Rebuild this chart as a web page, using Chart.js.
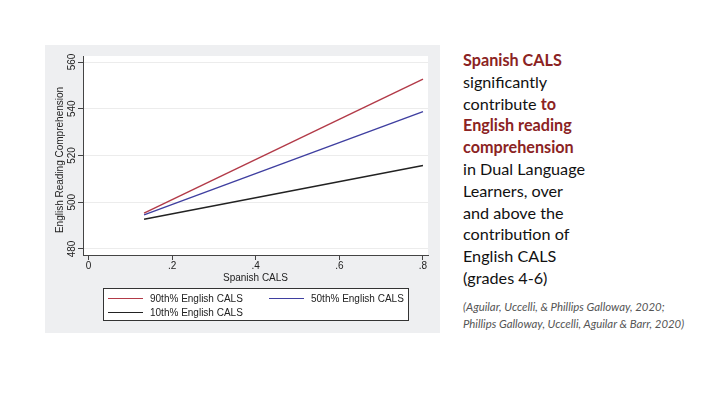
<!DOCTYPE html>
<html>
<head>
<meta charset="utf-8">
<script src="https://cdn.jsdelivr.net/npm/chart.js@4.4.1/dist/chart.umd.min.js"></script>
<style>
  html, body { margin: 0; padding: 0; background: #ffffff; width: 720px; height: 405px; overflow: hidden; }
  #panel { position: absolute; left: 45px; top: 45px; width: 395px; height: 288px; background: #eeeff1; }
  #chart { position: absolute; left: 0; top: 0; }
  #side { position: absolute; left: 463px; top: 49px; font-family: Lato, "Open Sans", sans-serif; font-size: 16.2px; line-height: 21.8px; color: #111; }
  #side b { color: #8b2323; font-weight: 700; }
  #cite { position: absolute; left: 463px; top: 299px; font-family: Lato, "Open Sans", sans-serif; font-style: italic; font-size: 11.4px; line-height: 16.7px; color: #555; }
</style>
</head>
<body>
<div id="panel"><canvas id="chart" width="395" height="288"></canvas></div>
<div id="side">
  <b>Spanish CALS</b><br>
  significantly<br>
  contribute <b>to</b><br>
  <b>English reading</b><br>
  <b>comprehension</b><br>
  in Dual Language<br>
  Learners, over<br>
  and above the<br>
  contribution of<br>
  English CALS<br>
  (grades 4-6)
</div>
<div id="cite">
  (Aguilar, Uccelli, &amp; Phillips Galloway, 2020;<br>
  Phillips Galloway, Uccelli, Aguilar &amp; Barr, 2020)
</div>
<script>
// ---- data ----
const spanishCALS = [0.133, 0.8];
const p90English = [495.3, 552.7];
const p50English = [494.6, 538.8];
const p10English = [492.7, 515.7];
const seriesNames = ["90th% English CALS", "50th% English CALS", "10th% English CALS"];
const xTickValues = [0, 0.2, 0.4, 0.6, 0.8];
const xTickLabels = ["0", ".2", ".4", ".6", ".8"];
const yTickValues = [480, 500, 520, 540, 560];
const yTickLabels = ["480", "500", "520", "540", "560"];
const xTitle = "Spanish CALS";
const yTitle = "English Reading Comprehension";

const FONT = '"Liberation Sans", Arial, sans-serif';
const toPts = ys => spanishCALS.map((x, i) => ({ x: x, y: ys[i] }));

const seriesColors = ["#b23a48", "#3f3fa0", "#222222"];

const plotBg = {
  id: 'plotBg',
  beforeDraw(chart) {
    const { ctx, chartArea: a } = chart;
    ctx.save();
    ctx.fillStyle = '#ffffff';
    ctx.fillRect(a.left, a.top, a.right - a.left, a.bottom - a.top);
    ctx.restore();
  }
};

const yLabels = {
  id: 'yLabels',
  afterDraw(chart) {
    const { ctx } = chart;
    const y = chart.scales.y;
    ctx.save();
    ctx.fillStyle = '#222';
    ctx.font = '10px ' + FONT;
    ctx.textAlign = 'center';
    ctx.textBaseline = 'middle';
    yTickValues.forEach((v, i) => {
      const py = y.getPixelForValue(v);
      ctx.save();
      ctx.translate(27, py);
      ctx.rotate(-Math.PI / 2);
      ctx.fillText(yTickLabels[i], 0, 0);
      ctx.restore();
    });
    ctx.save();
    ctx.translate(15, (chart.chartArea.top + chart.chartArea.bottom) / 2 + 4.5);
    ctx.rotate(-Math.PI / 2);
    ctx.fillText(yTitle, 0, 0);
    ctx.restore();
    ctx.restore();
  }
};

const boxLegend = {
  id: 'boxLegend',
  afterDraw(chart) {
    const { ctx } = chart;
    const bx = 58, by = 243, bw = 305, bh = 32;
    ctx.save();
    ctx.fillStyle = '#ffffff';
    ctx.fillRect(bx, by, bw, bh);
    ctx.strokeStyle = '#333';
    ctx.lineWidth = 1;
    ctx.strokeRect(bx + 0.5, by + 0.5, bw, bh);
    const slots = [[63, 253], [224, 253], [63, 267]];
    ctx.font = '10px ' + FONT;
    ctx.textBaseline = 'middle';
    ctx.textAlign = 'left';
    chart.data.datasets.forEach((ds, i) => {
      const [sx, sy] = slots[i];
      ctx.strokeStyle = ds.borderColor;
      ctx.lineWidth = 1.2;
      ctx.beginPath();
      ctx.moveTo(sx, sy + 0.5);
      ctx.lineTo(sx + 35, sy + 0.5);
      ctx.stroke();
      ctx.fillStyle = '#222';
      ctx.fillText(ds.label, sx + 42, sy + 1);
    });
    ctx.restore();
  }
};

new Chart(document.getElementById('chart'), {
  type: 'line',
  data: {
    datasets: [
      { label: seriesNames[0], data: toPts(p90English), borderColor: seriesColors[0] },
      { label: seriesNames[1], data: toPts(p50English), borderColor: seriesColors[1] },
      { label: seriesNames[2], data: toPts(p10English), borderColor: seriesColors[2] }
    ].map(d => Object.assign(d, { borderWidth: 1.4, pointRadius: 0, fill: false, tension: 0 }))
  },
  options: {
    responsive: false,
    devicePixelRatio: 1,
    animation: false,
    layout: { padding: { top: 11, right: 12, bottom: 49, left: 0 } },
    plugins: { legend: { display: false }, tooltip: { enabled: false } },
    scales: {
      x: {
        type: 'linear',
        min: -0.013, max: 0.812,
        afterBuildTicks: s => { s.ticks = xTickValues.map(v => ({ value: v })); },
        afterFit: s => { s.height = 29; },
        ticks: {
          padding: 0, color: '#222', font: { family: FONT, size: 10 },
          maxRotation: 0, autoSkip: false,
          callback: (v) => { const i = xTickValues.indexOf(v); return i >= 0 ? xTickLabels[i] : ''; }
        },
        grid: { drawOnChartArea: false, tickLength: 5, tickColor: '#444', color: '#444' },
        border: { color: '#444', width: 1 },
        title: { display: true, text: xTitle, color: '#222', font: { family: FONT, size: 10 }, padding: { top: 0, bottom: 0 } }
      },
      y: {
        type: 'linear',
        min: 477.43, max: 562.57,
        afterBuildTicks: s => { s.ticks = yTickValues.map(v => ({ value: v })); },
        afterFit: s => { s.width = 38; },
        ticks: { display: false },
        grid: { color: '#ececec', tickLength: 5, tickColor: '#444' },
        border: { color: '#444', width: 1 }
      }
    }
  },
  plugins: [plotBg, yLabels, boxLegend]
});
</script>
</body>
</html>
